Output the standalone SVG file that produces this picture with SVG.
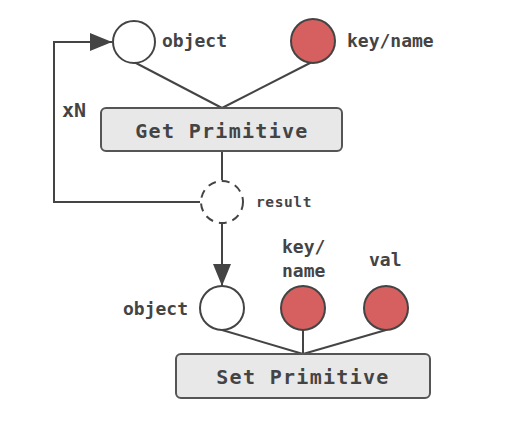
<svg xmlns="http://www.w3.org/2000/svg" width="524" height="429" viewBox="0 0 524 429">
<style>
text{font-family:"DejaVu Sans Mono","Liberation Mono",monospace;font-weight:bold;fill:#444}
.lbl{font-size:18px}
.box{fill:#e8e8e8;stroke:#555;stroke-width:2}
.big{font-size:20px;letter-spacing:1.3px}
.c{fill:#fff;stroke:#444;stroke-width:2}
.r{fill:#d65f5f;stroke:#444;stroke-width:2}
.ln{fill:none;stroke:#444;stroke-width:2}
</style>
<defs>
<marker id="ah2" viewBox="0 0 22 18" refX="22" refY="9" markerWidth="22" markerHeight="18" orient="auto" markerUnits="userSpaceOnUse">
<path d="M0,0 L22,9 L0,18 Z" fill="#444"/>
</marker>
</defs>
<rect width="524" height="429" fill="#fff"/>
<g id="connectors">
<line class="ln" x1="134" y1="62" x2="222" y2="108"/>
<line class="ln" x1="312" y1="62" x2="222" y2="108"/>
<line class="ln" x1="222" y1="151" x2="222" y2="180"/>
<polyline class="ln" points="200,202 54,202 54,42 112,42" marker-end="url(#ah2)"/>
<line class="ln" x1="222" y1="224" x2="222" y2="286" marker-end="url(#ah2)"/>
<line class="ln" x1="222" y1="330" x2="303" y2="354"/>
<line class="ln" x1="303" y1="330" x2="303" y2="354"/>
<line class="ln" x1="386" y1="330" x2="303" y2="354"/>
</g>
<g id="top-object"><circle class="c" cx="134" cy="42" r="21"/><text class="lbl" x="162" y="47">object</text></g>
<g id="top-key"><circle class="r" cx="313" cy="41" r="22"/><text class="lbl" x="347" y="47">key/name</text></g>
<g id="xn"><text x="62" y="117" style="font-size:20px">xN</text></g>
<g id="get"><rect class="box" x="101" y="108" width="241" height="43" rx="5"/><text class="big" x="222" y="138" text-anchor="middle">Get Primitive</text></g>
<g id="result"><circle cx="222" cy="202" r="21" fill="#fff" stroke="#444" stroke-width="2" stroke-dasharray="8,6"/><text x="256" y="207" style="font-size:14.5px;letter-spacing:0.6px">result</text></g>
<g id="bot-object"><circle class="c" cx="222" cy="308" r="22"/><text class="lbl" x="188" y="315" text-anchor="end">object</text></g>
<g id="bot-key"><circle class="r" cx="303" cy="308" r="22"/><text class="lbl" x="282" y="253">key/</text><text class="lbl" x="282" y="277">name</text></g>
<g id="bot-val"><circle class="r" cx="386" cy="308" r="22"/><text class="lbl" x="369" y="266">val</text></g>
<g id="set"><rect class="box" x="176" y="354" width="254" height="44" rx="5"/><text class="big" x="303" y="384" text-anchor="middle">Set Primitive</text></g>
</svg>
